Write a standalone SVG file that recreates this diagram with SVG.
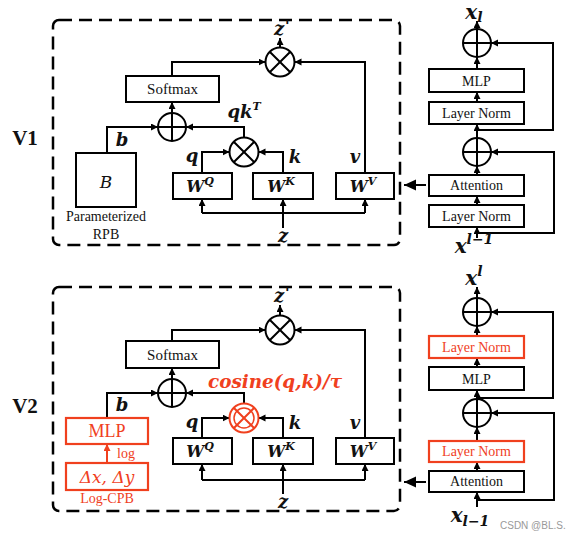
<svg xmlns="http://www.w3.org/2000/svg" width="569" height="534" viewBox="0 0 569 534">
<style>
.bx{fill:#fff;stroke:#000;stroke-width:2}
.rbx{fill:#fff;stroke:#f0401e;stroke-width:2.2}
.ln{fill:none;stroke:#000;stroke-width:2}
.rln{fill:none;stroke:#f0401e;stroke-width:2}
.op{fill:#fff;stroke:#000;stroke-width:2}
.rop{fill:#fff;stroke:#f0401e;stroke-width:2}
.dash{fill:none;stroke:#000;stroke-width:2.5;stroke-dasharray:13 7}
.t{font-family:"Liberation Serif","Times New Roman",serif;font-size:15px;fill:#111;text-anchor:middle}
.s14{font-size:14px}
.rt{font-family:"Liberation Serif","Times New Roman",serif;font-size:14px;fill:#f0401e;text-anchor:middle}
.m{font-family:"DejaVu Serif","Liberation Serif",serif;font-weight:bold;font-style:italic;font-size:18px;fill:#111;text-anchor:middle}
.w{font-size:16px}
.sup{font-size:11px}
.x{font-size:20px}
.pr{font-family:"DejaVu Serif",serif;font-weight:bold;font-style:italic;font-size:15px;fill:#111}
.big{font-family:"Liberation Serif",serif;font-weight:bold;font-size:21px;fill:#111;text-anchor:middle}
.wm{font-family:"Liberation Sans",Arial,sans-serif;font-size:10px;fill:#999}
</style>
<defs>
<marker id="a" markerUnits="userSpaceOnUse" markerWidth="9" markerHeight="8" refX="7" refY="3.5" orient="auto"><path d="M0,0 L7,3.5 L0,7 z" fill="#000"/></marker>
<marker id="ra" markerUnits="userSpaceOnUse" markerWidth="9" markerHeight="8" refX="7" refY="3.5" orient="auto"><path d="M0,0 L7,3.5 L0,7 z" fill="#f0401e"/></marker>
<marker id="ba" markerUnits="userSpaceOnUse" markerWidth="14" markerHeight="12" refX="12" refY="5.5" orient="auto"><path d="M0,0 L12,5.5 L0,11 z" fill="#000"/></marker>
</defs>

<!-- ================= V1 ================= -->
<g id="v1-label"><text class="big" x="25" y="145">V1</text></g>
<g id="v1-frame"><rect class="dash" x="53" y="20" width="347" height="225" rx="6"/></g>

<g id="v1-connectors">
<path class="ln" d="M280,47.5 V38" marker-end="url(#a)"/>
<path class="ln" d="M172,76 V62 H265.5" marker-end="url(#a)"/>
<path class="ln" d="M365,173 V62 H294.5" marker-end="url(#a)"/>
<path class="ln" d="M172,113 V102" marker-end="url(#a)"/>
<path class="ln" d="M107,153 V127 H158" marker-end="url(#a)"/>
<path class="ln" d="M244,137.5 V127 H186" marker-end="url(#a)"/>
<path class="ln" d="M202,173 V152 H229.5" marker-end="url(#a)"/>
<path class="ln" d="M283,173 V152 H258.5" marker-end="url(#a)"/>
<path class="ln" d="M202,213 H365"/>
<path class="ln" d="M202,213 V199" marker-end="url(#a)"/>
<path class="ln" d="M365,213 V199" marker-end="url(#a)"/>
<path class="ln" d="M283,228 V199" marker-end="url(#a)"/>
<path class="ln" d="M426,185 H404" stroke-width="3" marker-end="url(#ba)"/>
<path class="ln" d="M477,29 V21" marker-end="url(#a)"/>
<path class="ln" d="M477,69 V57" marker-end="url(#a)"/>
<path class="ln" d="M477,102 V92" marker-end="url(#a)"/>
<path class="ln" d="M477,138 V124" marker-end="url(#a)"/>
<path class="ln" d="M477,175 V166" marker-end="url(#a)"/>
<path class="ln" d="M477,205 V196" marker-end="url(#a)"/>
<path class="ln" d="M477,238 V227" marker-end="url(#a)"/>
<path class="ln" d="M477,130 H553 V43 H491" marker-end="url(#a)"/>
<path class="ln" d="M477,233 H554 V152 H491" marker-end="url(#a)"/>
</g>

<g id="v1-mul-out"><circle class="op" cx="280" cy="62" r="14.5"/><path class="ln" d="M269.7,51.7 L290.3,72.3 M290.3,51.7 L269.7,72.3"/></g>
<g id="v1-zprime"><text class="m" x="279" y="35">z</text><text class="pr" x="285" y="31">'</text></g>
<g id="v1-softmax"><rect class="bx" x="126" y="76" width="93" height="26"/><text class="t" x="172.5" y="94">Softmax</text></g>
<g id="v1-add"><circle class="op" cx="172" cy="127" r="14"/><path class="ln" d="M158,127 H186 M172,113 V141"/></g>
<g id="v1-qkt"><text class="m" x="244" y="118">qk<tspan class="sup" dy="-8">T</tspan></text></g>
<g id="v1-mul-qk"><circle class="op" cx="244" cy="152" r="14.5"/><path class="ln" d="M233.7,141.7 L254.3,162.3 M254.3,141.7 L233.7,162.3"/></g>
<g id="v1-B"><rect class="bx" x="76" y="153" width="60" height="54"/><text x="106" y="188" style="font-family:'DejaVu Serif','Liberation Serif',serif;font-style:italic;font-size:17px;fill:#111;text-anchor:middle">B</text>
<text class="t s14" x="106" y="221">Parameterized</text><text class="t s14" x="106" y="239">RPB</text></g>
<g id="v1-b"><text class="m" x="122" y="146">b</text></g>
<g id="v1-WQ"><rect class="bx" x="173" y="173" width="59" height="26"/><text class="m w" x="200" y="192">W<tspan class="sup" dy="-7">Q</tspan></text></g>
<g id="v1-WK"><rect class="bx" x="253" y="173" width="60" height="26"/><text class="m w" x="281" y="192">W<tspan class="sup" dy="-7">K</tspan></text></g>
<g id="v1-WV"><rect class="bx" x="336" y="173" width="58" height="26"/><text class="m w" x="363" y="192">W<tspan class="sup" dy="-7">V</tspan></text></g>
<g id="v1-qkv"><text class="m" x="192" y="162">q</text><text class="m" x="295" y="163">k</text><text class="m" x="355" y="163">v</text></g>
<g id="v1-z"><text class="m" x="283" y="242">z</text></g>

<g id="v1-xl"><text class="m x" x="474" y="19">x<tspan class="s14" dy="3">l</tspan></text></g>
<g id="v1-add-top"><circle class="op" cx="477" cy="43" r="14"/><path class="ln" d="M463,43 H491 M477,29 V57"/></g>
<g id="v1-mlp"><rect class="bx" x="429" y="69" width="95" height="23"/><text class="t s14" x="476.5" y="86">MLP</text></g>
<g id="v1-ln2"><rect class="bx" x="429" y="102" width="95" height="22"/><text class="t s14" x="476.5" y="118">Layer Norm</text></g>
<g id="v1-add-mid"><circle class="op" cx="477" cy="152" r="14"/><path class="ln" d="M463,152 H491 M477,138 V166"/></g>
<g id="v1-attn"><rect class="bx" x="429" y="175" width="95" height="21"/><text class="t s14" x="476.5" y="190">Attention</text></g>
<g id="v1-ln1"><rect class="bx" x="429" y="205" width="95" height="22"/><text class="t s14" x="476.5" y="221">Layer Norm</text></g>
<g id="v1-xin"><text class="m x" x="474" y="253">x<tspan class="s14" dy="-9">l−1</tspan></text></g>

<!-- ================= V2 ================= -->
<g id="v2-label"><text class="big" x="25" y="413">V2</text></g>
<g id="v2-frame"><rect class="dash" x="53" y="287" width="347" height="224" rx="6"/></g>

<g id="v2-connectors">
<path class="ln" d="M280,315.5 V305" marker-end="url(#a)"/>
<path class="ln" d="M172,341 V330 H265.5" marker-end="url(#a)"/>
<path class="ln" d="M365,438 V330 H294.5" marker-end="url(#a)"/>
<path class="ln" d="M172,379 V368" marker-end="url(#a)"/>
<path class="ln" d="M107,418 V393 H158" marker-end="url(#a)"/>
<path class="ln" d="M244,403.5 V393 H186" marker-end="url(#a)"/>
<path class="ln" d="M202,438 V418 H229.5" marker-end="url(#a)"/>
<path class="ln" d="M283,438 V418 H258.5" marker-end="url(#a)"/>
<path class="ln" d="M202,480 H365"/>
<path class="ln" d="M202,480 V464" marker-end="url(#a)"/>
<path class="ln" d="M365,480 V464" marker-end="url(#a)"/>
<path class="ln" d="M283,494 V464" marker-end="url(#a)"/>
<path class="rln" d="M107,463 V444" marker-end="url(#ra)"/>
<path class="ln" d="M426,482 H404" stroke-width="3" marker-end="url(#ba)"/>
<path class="ln" d="M477,298 V287" marker-end="url(#a)"/>
<path class="ln" d="M477,336 V326" marker-end="url(#a)"/>
<path class="ln" d="M477,367 V358" marker-end="url(#a)"/>
<path class="ln" d="M477,399 V390" marker-end="url(#a)"/>
<path class="ln" d="M477,441 V427" marker-end="url(#a)"/>
<path class="ln" d="M477,471 V462" marker-end="url(#a)"/>
<path class="ln" d="M477,507 V492" marker-end="url(#a)"/>
<path class="ln" d="M477,398 H553 V312 H491" marker-end="url(#a)"/>
<path class="ln" d="M477,500 H554 V413 H491" marker-end="url(#a)"/>
</g>

<g id="v2-mul-out"><circle class="op" cx="280" cy="330" r="14.5"/><path class="ln" d="M269.7,319.7 L290.3,340.3 M290.3,319.7 L269.7,340.3"/></g>
<g id="v2-zprime"><text class="m" x="279" y="302">z</text><text class="pr" x="285" y="298">'</text></g>
<g id="v2-softmax"><rect class="bx" x="126" y="341" width="93" height="27"/><text class="t" x="172.5" y="360">Softmax</text></g>
<g id="v2-add"><circle class="op" cx="172" cy="393" r="14"/><path class="ln" d="M158,393 H186 M172,379 V407"/></g>
<g id="v2-cos"><text x="275" y="388" style="font-family:'DejaVu Serif','Liberation Serif',serif;font-weight:bold;font-style:italic;font-size:19px;fill:#f0401e;text-anchor:middle" textLength="134" lengthAdjust="spacingAndGlyphs">cosine(q,k)/τ</text></g>
<g id="v2-mul-qk"><circle class="rop" cx="244" cy="418" r="14.5"/><circle fill="none" stroke="#f0401e" stroke-width="1.5" cx="244" cy="418" r="10"/><path class="rln" d="M233.7,407.7 L254.3,428.3 M254.3,407.7 L233.7,428.3"/></g>
<g id="v2-mlp-cpb"><rect class="rbx" x="66" y="418" width="82" height="26"/><text class="rt" x="107" y="437" style="font-size:18px">MLP</text></g>
<g id="v2-log"><text class="rt" x="126" y="458">log</text></g>
<g id="v2-delta"><rect class="rbx" x="66" y="463" width="82" height="27"/><text x="107" y="483" style="font-family:'DejaVu Serif','Liberation Serif',serif;font-style:italic;font-size:17px;fill:#f0401e;text-anchor:middle">Δx, Δy</text>
<text class="rt" x="107" y="503">Log-CPB</text></g>
<g id="v2-b"><text class="m" x="122" y="411">b</text></g>
<g id="v2-WQ"><rect class="bx" x="173" y="438" width="59" height="26"/><text class="m w" x="200" y="457">W<tspan class="sup" dy="-7">Q</tspan></text></g>
<g id="v2-WK"><rect class="bx" x="253" y="438" width="60" height="26"/><text class="m w" x="281" y="457">W<tspan class="sup" dy="-7">K</tspan></text></g>
<g id="v2-WV"><rect class="bx" x="336" y="438" width="58" height="26"/><text class="m w" x="363" y="457">W<tspan class="sup" dy="-7">V</tspan></text></g>
<g id="v2-qkv"><text class="m" x="192" y="428">q</text><text class="m" x="295" y="429">k</text><text class="m" x="355" y="429">v</text></g>
<g id="v2-z"><text class="m" x="283" y="508">z</text></g>

<g id="v2-xl"><text class="m x" x="474" y="285">x<tspan class="s14" dy="-9">l</tspan></text></g>
<g id="v2-add-top"><circle class="op" cx="477" cy="312" r="14"/><path class="ln" d="M463,312 H491 M477,298 V326"/></g>
<g id="v2-ln2"><rect class="rbx" x="429" y="336" width="95" height="22"/><text class="rt" x="476.5" y="352">Layer Norm</text></g>
<g id="v2-mlp"><rect class="bx" x="429" y="367" width="95" height="23"/><text class="t s14" x="476.5" y="384">MLP</text></g>
<g id="v2-add-mid"><circle class="op" cx="477" cy="413" r="14"/><path class="ln" d="M463,413 H491 M477,399 V427"/></g>
<g id="v2-ln1"><rect class="rbx" x="429" y="441" width="95" height="21"/><text class="rt" x="476.5" y="456">Layer Norm</text></g>
<g id="v2-attn"><rect class="bx" x="429" y="471" width="95" height="21"/><text class="t s14" x="476.5" y="486">Attention</text></g>
<g id="v2-xin"><text class="m x" x="470" y="522">x<tspan class="s14" dy="4">l−1</tspan></text></g>
<g id="watermark"><text class="wm" x="500" y="529">CSDN @BL.S.</text></g>
</svg>
